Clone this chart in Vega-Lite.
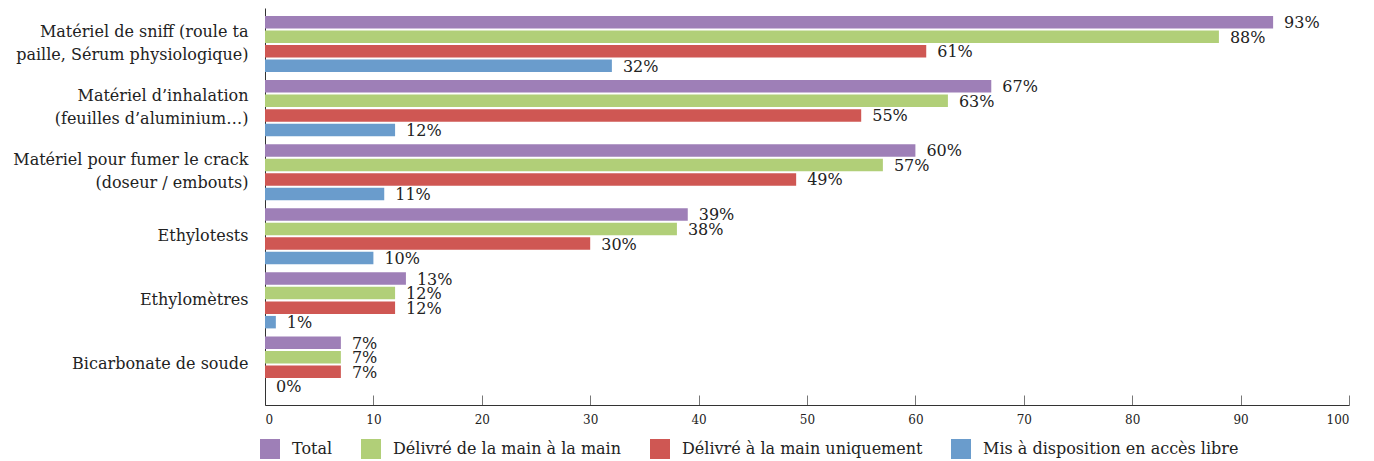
{
  "$schema": "https://vega.github.io/schema/vega-lite/v6.json",
  "width": 1084,
  "height": 397,
  "autosize": "none",
  "padding": {"left": 265, "top": 8, "right": 25, "bottom": 56},
  "config": {
    "font": "DejaVu Serif",
    "view": {"stroke": null},
    "axis": {"grid": false, "labelFont": "DejaVu Serif"},
    "legend": {"labelFont": "DejaVu Serif"},
    "text": {"font": "DejaVu Serif"}
  },
  "data": {
    "values": [
      {"cat": "Matériel de sniff (roule ta|paille, Sérum physiologique)", "series": "Total", "v": 93},
      {"cat": "Matériel de sniff (roule ta|paille, Sérum physiologique)", "series": "Délivré de la main à la main", "v": 88},
      {"cat": "Matériel de sniff (roule ta|paille, Sérum physiologique)", "series": "Délivré à la main uniquement", "v": 61},
      {"cat": "Matériel de sniff (roule ta|paille, Sérum physiologique)", "series": "Mis à disposition en accès libre", "v": 32},
      {"cat": "Matériel d’inhalation|(feuilles d’aluminium…)", "series": "Total", "v": 67},
      {"cat": "Matériel d’inhalation|(feuilles d’aluminium…)", "series": "Délivré de la main à la main", "v": 63},
      {"cat": "Matériel d’inhalation|(feuilles d’aluminium…)", "series": "Délivré à la main uniquement", "v": 55},
      {"cat": "Matériel d’inhalation|(feuilles d’aluminium…)", "series": "Mis à disposition en accès libre", "v": 12},
      {"cat": "Matériel pour fumer le crack|(doseur / embouts)", "series": "Total", "v": 60},
      {"cat": "Matériel pour fumer le crack|(doseur / embouts)", "series": "Délivré de la main à la main", "v": 57},
      {"cat": "Matériel pour fumer le crack|(doseur / embouts)", "series": "Délivré à la main uniquement", "v": 49},
      {"cat": "Matériel pour fumer le crack|(doseur / embouts)", "series": "Mis à disposition en accès libre", "v": 11},
      {"cat": "Ethylotests", "series": "Total", "v": 39},
      {"cat": "Ethylotests", "series": "Délivré de la main à la main", "v": 38},
      {"cat": "Ethylotests", "series": "Délivré à la main uniquement", "v": 30},
      {"cat": "Ethylotests", "series": "Mis à disposition en accès libre", "v": 10},
      {"cat": "Ethylomètres", "series": "Total", "v": 13},
      {"cat": "Ethylomètres", "series": "Délivré de la main à la main", "v": 12},
      {"cat": "Ethylomètres", "series": "Délivré à la main uniquement", "v": 12},
      {"cat": "Ethylomètres", "series": "Mis à disposition en accès libre", "v": 1},
      {"cat": "Bicarbonate de soude", "series": "Total", "v": 7},
      {"cat": "Bicarbonate de soude", "series": "Délivré de la main à la main", "v": 7},
      {"cat": "Bicarbonate de soude", "series": "Délivré à la main uniquement", "v": 7},
      {"cat": "Bicarbonate de soude", "series": "Mis à disposition en accès libre", "v": 0}
    ]
  },
  "transform": [{"calculate": "datum.v + '%'", "as": "lbl"}],
  "encoding": {
    "y": {
      "field": "cat",
      "type": "nominal",
      "sort": null,
      "scale": {"paddingInner": 0.125, "paddingOuter": 0.16, "align": 0.39},
      "axis": {
        "title": null,
        "ticks": false,
        "domainColor": "#333333",
        "labelFont": "DejaVu Serif",
        "labelFontSize": 16,
        "labelColor": "#222222",
        "labelPadding": 17,
        "labelLineHeight": 23,
        "labelLimit": 400,
        "labelOffset": {"condition": {"test": "indexof(datum.value, '|') >= 0", "value": -12}, "value": 0},
        "labelExpr": "split(datum.label, '|')"
      }
    },
    "yOffset": {
      "field": "series",
      "type": "nominal",
      "sort": ["Total", "Délivré de la main à la main", "Délivré à la main uniquement", "Mis à disposition en accès libre"],
      "scale": {"paddingInner": 0.14}
    },
    "x": {
      "field": "v",
      "type": "quantitative",
      "scale": {"domain": [0, 100], "nice": false},
      "axis": {
        "title": null,
        "values": [0, 10, 20, 30, 40, 50, 60, 70, 80, 90, 100],
        "domainColor": "#333333",
        "tickColor": "#777777",
        "tickSize": -10,
        "labelFont": "DejaVu Serif",
        "labelFontSize": 12,
        "labelColor": "#222222",
        "labelPadding": 19,
        "labelDx": 3
      }
    }
  },
  "layer": [
    {
      "mark": {"type": "bar"},
      "encoding": {
        "color": {
          "field": "series",
          "type": "nominal",
          "sort": ["Total", "Délivré de la main à la main", "Délivré à la main uniquement", "Mis à disposition en accès libre"],
          "scale": {
            "domain": ["Total", "Délivré de la main à la main", "Délivré à la main uniquement", "Mis à disposition en accès libre"],
            "range": ["#9e7fb7", "#b1cf78", "#cf5753", "#6a9ccc"]
          },
          "legend": {
            "title": null,
            "orient": "none",
            "legendX": -5,
            "legendY": 431,
            "direction": "horizontal",
            "symbolType": "square",
            "symbolSize": 400,
            "symbolStrokeWidth": 0,
            "labelFont": "DejaVu Serif",
            "labelFontSize": 16,
            "labelColor": "#222222",
            "labelOffset": 12,
            "columnPadding": 28,
            "labelLimit": 400
          }
        }
      }
    },
    {
      "mark": {"type": "text", "align": "left", "baseline": "middle", "dx": 11, "dy": 1, "fontSize": 16, "font": "DejaVu Serif", "color": "#222222"},
      "encoding": {"text": {"field": "lbl"}}
    }
  ]
}
